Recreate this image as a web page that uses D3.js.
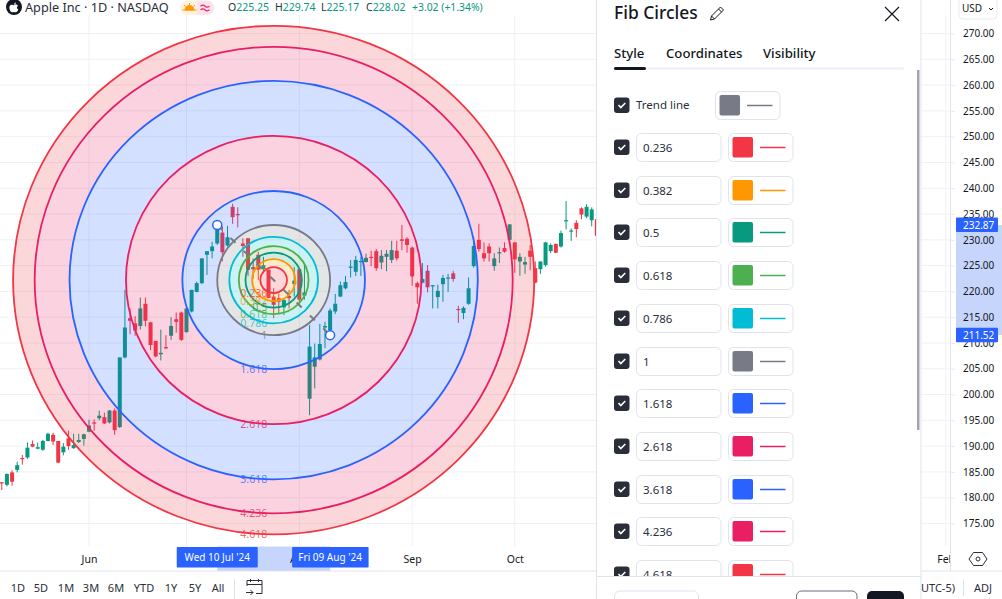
<!DOCTYPE html>
<html>
<head>
<meta charset="utf-8">
<title>Fib Circles</title>
<script src="https://cdn.jsdelivr.net/npm/d3@7"></script>
<style>
  html, body { margin: 0; padding: 0; background: #fff; overflow: hidden; }
  svg { display: block; font-family: "Noto Sans", sans-serif; }
</style>
</head>
<body>
<svg id="chart" width="1002" height="599"></svg>
<script>
////////////////////////////////////////////////////////////////////////////////
//////////////////////////////////////////////////////////////////////////// Data
////////////////////////////////////////////////////////////////////////////////

// daily candles, one entry per trading day
const opens = [183.0,182.5,184.9,185.4,187.7,187.8,190.4,189.5,189.3,191.0,
  192.2,191.0,188.8,191.5,189.6,190.8,191.4,192.8,194.6,195.4,
  195.6,194.6,196.9,193.7,207.2,214.8,213.8,213.3,217.6,214.0,
  210.4,207.8,209.2,211.4,214.6,215.9,212.1,216.1,219.9,221.6,
  227.1,227.8,229.3,231.4,228.9,236.4,235.0,229.3,230.3,224.7,
  227.1,224.3,224.2,219.0,218.7,216.9,219.1,221.4,224.3,219.2,
  199.2,205.4,206.8,213.0,212.4,216.1,219.0,220.6,224.7,223.8,
  225.8,225.7,226.7,227.8,225.6,226.7,226.1,227.9,230.1,230.2,
  228.5,221.6,221.7,224.0,221.1,218.9,221.4,222.5,223.5,216.6,
  215.8,217.6,224.9,230.0,227.4,228.7,224.9,227.5,228.4,230.0,
  229.5,225.8,225.2,227.9,224.5,224.3,225.1,227.8,229.2,228.7,
  233.7,231.7,233.3,236.1,234.5,233.8,234.0];
const highs = [183.0,184.7,185.3,187.0,188.3,190.7,191.1,190.7,191.2,192.6,
  192.6,191.0,190.6,193.0,192.4,192.4,192.4,195.1,195.2,196.9,
  196.5,197.0,197.3,207.2,220.3,216.7,215.2,218.8,218.8,214.1,
  210.4,212.6,211.5,215.0,215.9,216.1,216.7,220.3,221.9,226.4,
  227.8,229.6,232.9,232.6,232.7,237.0,236.3,230.3,230.3,226.4,
  227.7,226.7,224.2,220.6,219.6,218.7,220.3,224.7,224.5,225.1,
  213.5,209.9,213.7,214.1,216.7,219.5,221.9,223.0,226.1,226.9,
  226.7,227.3,227.9,228.2,228.0,228.0,229.8,229.8,232.9,230.5,
  228.7,221.9,225.5,225.1,221.2,221.3,223.2,223.4,224.0,217.2,
  217.1,222.7,230.6,233.1,229.5,229.3,227.4,228.5,229.5,233.0,
  229.6,227.4,226.7,229.0,225.8,225.8,229.6,229.3,229.3,231.8,
  237.5,232.2,233.8,236.3,236.9,236.3,234.2];
const lows = [181.5,182.2,182.3,184.9,186.4,187.5,189.8,189.4,189.1,190.9,
  190.2,186.7,188.2,189.3,189.5,190.6,190.1,192.7,193.0,195.0,
  194.3,194.4,192.2,193.5,207.0,211.7,211.4,212.6,213.2,208.6,
  207.2,206.6,208.8,210.6,212.0,210.4,212.0,215.9,219.8,221.4,
  223.2,226.4,229.0,225.8,228.7,233.1,232.4,226.7,223.0,222.5,
  222.2,223.5,218.7,214.8,215.8,215.4,216.7,219.0,218.0,218.4,
  196.0,201.2,206.6,209.0,212.2,215.6,218.9,220.4,222.7,223.0,
  223.0,225.6,224.9,224.0,224.3,223.9,225.5,226.0,228.0,227.5,
  221.1,217.6,221.6,219.8,216.7,216.7,218.0,219.9,221.9,213.9,
  214.6,217.4,224.6,227.7,225.8,225.8,224.0,225.5,227.5,229.0,
  223.6,223.0,223.4,224.1,221.6,223.4,224.8,227.4,227.4,228.5,
  232.0,229.8,230.5,234.0,234.2,232.6,227.9];
const closes = [182.9,184.6,183.1,186.3,187.6,189.7,189.9,189.8,191.0,192.4,
  190.9,186.8,189.9,190.0,190.2,191.2,192.3,194.0,194.5,195.9,
  194.4,196.9,193.1,207.2,213.0,214.3,212.4,216.7,214.3,209.6,
  207.4,208.1,209.1,213.3,214.1,210.6,216.7,220.3,221.6,226.4,
  227.8,228.7,232.9,227.6,230.5,234.4,234.9,228.8,224.2,224.3,
  224.2,225.1,218.7,217.4,218.0,218.3,218.7,222.1,218.4,219.8,
  209.3,207.2,209.8,213.3,216.3,217.6,221.2,221.8,224.8,226.1,
  225.9,226.5,226.6,224.5,226.9,227.3,228.0,226.4,229.8,229.0,
  222.9,220.8,222.4,220.8,221.2,220.1,222.6,222.7,222.4,216.5,
  216.8,220.6,228.8,228.2,226.4,227.4,226.4,227.6,227.7,233.0,
  226.2,226.7,225.7,226.7,221.7,225.8,229.5,229.0,227.5,231.3,
  233.8,231.8,232.1,234.9,236.4,235.9,230.8];

// fib circle tool
const fibLevels = [0.236, 0.382, 0.5, 0.618, 0.786, 1, 1.618, 2.618, 3.618, 4.236, 4.618];
const fibColors = ["#F23645", "#FF9800", "#089981", "#4CAF50", "#00BCD4", "#787B86",
                   "#2962FF", "#E91E63", "#2962FF", "#E91E63", "#F23645"];
const anchorBars = [43, 65];
const anchorPrices = [232.87, 211.52];
const anchorDates = ["Wed 10 Jul '24", "Fri 09 Aug '24"];

// axes
const priceTicks = [175,180,185,190,195,200,205,210,215,220,225,230,235,240,245,250,255,260,265,270];
const monthBars = [18, 37, 59, 81, 101, 185];
const monthLabels = ["Jun", "Jul", "Aug", "Sep", "Oct", "Feb"];

// header, toolbar
const legendNames = ["O", "H", "L", "C"];
const legendValues = ["225.25", "229.74", "225.17", "228.02"];
const legendChange = "+3.02 (+1.34%)";
const rangeButtons = ["1D", "5D", "1M", "3M", "6M", "YTD", "1Y", "5Y", "All"];
const panelTabs = ["Style", "Coordinates", "Visibility"];

////////////////////////////////////////////////////////////////////////////////
/////////////////////////////////////////////////////////////////// Scales, layout
////////////////////////////////////////////////////////////////////////////////

const paneRight = 951;
const paneBottom = 546.5;
const axisBottomY = 571;
const upColor = "#089981";
const downColor = "#F23645";
const textColor = "#131722";
const lineColor = "#e0e3eb";
const selectColor = "#2962FF";
const selectBand = "#c6d5fb";

const bars = d3.range(1, opens.length + 1);
const xScale = d3.scaleLinear().domain([18, 65]).range([89, 330.1]);
const yScale = d3.scaleLinear().domain([270, 175]).range([33.5, 523.5]);

const svg = d3.select("#chart");
const defs = svg.append("defs");
defs.append("clipPath").attr("id", "pane-clip").append("rect")
    .attr("x", 0).attr("y", 0).attr("width", paneRight).attr("height", paneBottom);
defs.append("clipPath").attr("id", "time-clip").append("rect")
    .attr("x", 0).attr("y", 0).attr("width", paneRight - 1).attr("height", 30);
defs.append("clipPath").attr("id", "panel-rows-clip").append("rect")
    .attr("x", 597).attr("y", 70).attr("width", 324).attr("height", 506);

////////////////////////////////////////////////////////////////////////////////
//////////////////////////////////////////////////////////////////////////// Grid
////////////////////////////////////////////////////////////////////////////////

const pane = svg.append("g").attr("clip-path", "url(#pane-clip)");

pane.append("g").selectAll("line")
    .data(priceTicks)
    .join("line")
      .attr("x1", 0)
      .attr("x2", paneRight)
      .attr("y1", d => yScale(d))
      .attr("y2", d => yScale(d))
      .attr("stroke", "#f0f1f5");

pane.append("g").selectAll("line")
    .data(monthBars)
    .join("line")
      .attr("x1", d => xScale(d))
      .attr("x2", d => xScale(d))
      .attr("y1", 15)
      .attr("y2", paneBottom)
      .attr("stroke", "#f0f1f5");

////////////////////////////////////////////////////////////////////////////////
///////////////////////////////////////////////////////////////////////// Candles
////////////////////////////////////////////////////////////////////////////////

const candleColor = i => closes[i] > opens[i] ? upColor : downColor;
const candles = pane.append("g");

candles.selectAll(".wick")
    .data(bars)
    .join("line")
      .attr("class", "wick")
      .attr("x1", d => xScale(d))
      .attr("x2", d => xScale(d))
      .attr("y1", d => yScale(highs[d - 1]))
      .attr("y2", d => yScale(lows[d - 1]))
      .attr("stroke", d => candleColor(d - 1))
      .attr("stroke-width", 1);

candles.selectAll(".body")
    .data(bars)
    .join("rect")
      .attr("class", "body")
      .attr("x", d => xScale(d) - 2)
      .attr("width", 4)
      .attr("y", d => yScale(Math.max(opens[d - 1], closes[d - 1])))
      .attr("height", d => Math.max(1.2, Math.abs(yScale(opens[d - 1]) - yScale(closes[d - 1]))))
      .attr("fill", d => candleColor(d - 1));

////////////////////////////////////////////////////////////////////////////////
////////////////////////////////////////////////////////////////////// Fib circles
////////////////////////////////////////////////////////////////////////////////

const anchorX = anchorBars.map(xScale);
const anchorY = anchorPrices.map(yScale);
const centerX = (anchorX[0] + anchorX[1]) / 2;
const centerY = (anchorY[0] + anchorY[1]) / 2;
const radiusX = d3.scaleLinear().domain([0, 1]).range([0, (anchorX[1] - anchorX[0]) / 2]);
const radiusY = d3.scaleLinear().domain([0, 1]).range([0, (anchorY[1] - anchorY[0]) / 2]);
const ringArc = d3.arc().startAngle(0).endAngle(2 * Math.PI);

const rings = pane.append("g");

rings.selectAll(".band")
    .data(fibLevels)
    .join("path")
      .attr("class", "band")
      .attr("transform", `translate(${centerX},${centerY}) scale(1,${radiusY(1) / radiusX(1)})`)
      .attr("d", (d, i) => ringArc({
        innerRadius: i === 0 ? 0 : radiusX(fibLevels[i - 1]),
        outerRadius: radiusX(d)
      }))
      .attr("fill", (d, i) => fibColors[i])
      .attr("fill-opacity", 0.2);

rings.selectAll(".ring")
    .data(fibLevels)
    .join("ellipse")
      .attr("class", "ring")
      .attr("cx", centerX)
      .attr("cy", centerY)
      .attr("rx", d => radiusX(d))
      .attr("ry", d => radiusY(d))
      .attr("fill", "none")
      .attr("stroke", (d, i) => fibColors[i])
      .attr("stroke-width", 1.8);

rings.selectAll(".ring-label")
    .data(fibLevels)
    .join("text")
      .attr("class", "ring-label")
      .attr("x", centerX - 6.5)
      .attr("y", d => centerY + radiusY(d) + 3.5)
      .attr("text-anchor", "end")
      .attr("font-size", 10.5)
      .attr("fill", (d, i) => fibColors[i])
      .attr("fill-opacity", 0.75)
      .text(d => d);

rings.append("line")
    .attr("x1", anchorX[0])
    .attr("y1", anchorY[0])
    .attr("x2", anchorX[1])
    .attr("y2", anchorY[1])
    .attr("stroke", "#787B86")
    .attr("stroke-width", 2)
    .attr("stroke-dasharray", "7 11.5");

rings.selectAll(".anchor")
    .data(anchorBars)
    .join("circle")
      .attr("class", "anchor")
      .attr("cx", d => xScale(d))
      .attr("cy", (d, i) => anchorY[i])
      .attr("r", 4.5)
      .attr("fill", "#fff")
      .attr("stroke", selectColor)
      .attr("stroke-width", 1.5);

////////////////////////////////////////////////////////////////////////////////
//////////////////////////////////////////////////////////////////////////// Axes
////////////////////////////////////////////////////////////////////////////////

// Time axis
svg.append("rect")
    .attr("x", anchorX[0])
    .attr("y", paneBottom)
    .attr("width", anchorX[1] - anchorX[0])
    .attr("height", axisBottomY - paneBottom)
    .attr("fill", selectBand);

const timeAxis = svg.append("g")
    .attr("transform", `translate(0,${paneBottom})`)
    .attr("clip-path", "url(#time-clip)")
    .call(d3.axisBottom(xScale)
      .tickValues(monthBars)
      .tickSize(0)
      .tickPadding(9)
      .tickFormat((d, i) => monthLabels[i]));
timeAxis.attr("font-family", null);
timeAxis.select(".domain").remove();
timeAxis.selectAll("text").attr("font-size", 10.5).attr("fill", textColor);

const dateBoxes = svg.append("g").selectAll("g")
    .data(anchorBars)
    .join("g")
      .attr("transform", d => `translate(${xScale(d)},547)`);
dateBoxes.append("rect")
    .attr("x", (d, i) => i === 0 ? -40.5 : -38)
    .attr("width", (d, i) => i === 0 ? 81 : 76.5)
    .attr("height", 20.5)
    .attr("rx", 1)
    .attr("fill", selectColor);
dateBoxes.append("text")
    .attr("x", 0)
    .attr("y", 13.8)
    .attr("text-anchor", "middle")
    .attr("font-size", 10)
    .attr("fill", "#fff")
    .text((d, i) => anchorDates[i]);

// Price axis
svg.append("rect")
    .attr("x", 956)
    .attr("y", anchorY[0])
    .attr("width", 46)
    .attr("height", anchorY[1] - anchorY[0])
    .attr("fill", selectBand);

const priceAxis = svg.append("g")
    .attr("transform", `translate(${paneRight},0)`)
    .call(d3.axisRight(yScale)
      .tickValues(priceTicks)
      .tickSize(4)
      .tickPadding(8)
      .tickFormat(d3.format(".2f")));
priceAxis.attr("font-family", null);
priceAxis.select(".domain").remove();
priceAxis.selectAll("line").attr("stroke", "#e9ebf0");
priceAxis.selectAll("text").attr("font-size", 10).attr("fill", textColor);

const priceBoxes = svg.append("g").selectAll("g")
    .data(anchorPrices)
    .join("g")
      .attr("transform", d => `translate(956,${yScale(d)})`);
priceBoxes.append("rect")
    .attr("y", -7.5)
    .attr("width", 42)
    .attr("height", 14.5)
    .attr("rx", 1)
    .attr("fill", selectColor);
priceBoxes.append("text")
    .attr("x", 7)
    .attr("y", 3.5)
    .attr("font-size", 10)
    .attr("fill", "#fff")
    .text(d => d3.format(".2f")(d));

svg.append("line")
    .attr("x1", paneRight - 0.5).attr("x2", paneRight - 0.5)
    .attr("y1", 0).attr("y2", axisBottomY)
    .attr("stroke", lineColor);
svg.append("line")
    .attr("x1", 0).attr("x2", 1002)
    .attr("y1", axisBottomY).attr("y2", axisBottomY)
    .attr("stroke", lineColor);

// Gear
svg.append("path")
    .attr("d", d3.line()(d3.range(7).map(k => [
      978 + 9 * Math.cos(k * Math.PI / 3),
      559 + 7.5 * Math.sin(k * Math.PI / 3)
    ])))
    .attr("fill", "none")
    .attr("stroke", "#2a2e39");
svg.append("circle")
    .attr("cx", 978).attr("cy", 559).attr("r", 2)
    .attr("fill", "none").attr("stroke", "#2a2e39");

// USD selector
svg.append("rect")
    .attr("x", 959).attr("y", -6).attr("width", 38).attr("height", 25).attr("rx", 4)
    .attr("fill", "#fff").attr("stroke", "#e9ebf0");
svg.append("text")
    .attr("x", 962).attr("y", 12).attr("font-size", 10).attr("fill", textColor)
    .text("USD");
svg.append("path")
    .attr("d", "M989 8l2 2l2 -2")
    .attr("fill", "none").attr("stroke", textColor);

////////////////////////////////////////////////////////////////////////////////
////////////////////////////////////////////////////////////////////////// Header
////////////////////////////////////////////////////////////////////////////////

svg.append("circle").attr("cx", 14).attr("cy", 7).attr("r", 8).attr("fill", "#131722");
svg.append("path")
    .attr("d", "M14 5.2c1-.9 3-.9 4 .6c-1.6 1-1.3 3 .3 3.8c-.6 1.5-1.5 2.7-2.4 2.7c-.8 0-1.1-.4-1.9-.4s-1.1.4-1.9.4c-1.6 0-3.4-4-2.4-6.3c.8-1.6 3-1.7 4.3-.8zM14 4.6c-.1-1 .7-2 1.9-2.2c.1 1.2-.8 2.2-1.9 2.2z")
    .attr("fill", "#fff");
svg.append("text")
    .attr("x", 25).attr("y", 12).attr("font-size", 12.7).attr("fill", "#2a2e39")
    .text("Apple Inc · 1D · NASDAQ");

svg.append("path")
    .attr("d", "M197 0.5h-10a7 7 0 0 0 0 14.5h10z")
    .attr("fill", "#fff3e0");
svg.append("path")
    .attr("d", "M197 0.5h10a7 7 0 0 1 0 14.5h-10z")
    .attr("fill", "#fce4ec");
svg.append("path")
    .attr("d", "M185 10a4.5 4.5 0 0 1 9 0zM189.5 3v2M184 5l1.5 1.5M195 5l-1.5 1.5M182.5 10h14")
    .attr("fill", "#ff9800").attr("stroke", "#ff9800").attr("stroke-width", 1);
svg.append("path")
    .attr("d", "M200.5 6.2q2.5 -2 4.5 0t4.5 0M200.5 9.8q2.5 -2 4.5 0t4.5 0")
    .attr("fill", "none").attr("stroke", "#e91e63").attr("stroke-width", 1.2);

const legendX = [228, 275, 321, 366];
legendNames.forEach(function(name, i) {
  const item = svg.append("text")
      .attr("x", legendX[i]).attr("y", 11).attr("font-size", 10.5);
  item.append("tspan").attr("fill", "#2a2e39").text(name);
  item.append("tspan").attr("fill", upColor).text(legendValues[i]);
});
svg.append("text")
    .attr("x", 412).attr("y", 11).attr("font-size", 10.4).attr("fill", upColor)
    .text(legendChange);

////////////////////////////////////////////////////////////////////////////////
///////////////////////////////////////////////////////////////// Bottom toolbar
////////////////////////////////////////////////////////////////////////////////

const rangeX = [18, 41, 66, 91, 116, 144, 171, 195, 218];
svg.append("g").selectAll("text")
    .data(rangeButtons)
    .join("text")
      .attr("x", (d, i) => rangeX[i])
      .attr("y", 592)
      .attr("text-anchor", "middle")
      .attr("font-size", 11)
      .attr("fill", "#2a2e39")
      .text(d => d);
svg.append("line")
    .attr("x1", 234.5).attr("x2", 234.5).attr("y1", 579).attr("y2", 599)
    .attr("stroke", lineColor);
svg.append("path")
    .attr("d", "M247 586v-5.5h15v13h-6M247 584.5h15M250.5 579v3M258.5 579v3M246 592.5h7M250.5 590l2.5 2.5l-2.5 2.5")
    .attr("fill", "none").attr("stroke", "#2a2e39");

svg.append("text")
    .attr("x", 955).attr("y", 592).attr("text-anchor", "end")
    .attr("font-size", 11).attr("fill", "#2a2e39")
    .text("09:37:12 (UTC-5)");
svg.append("line")
    .attr("x1", 963.5).attr("x2", 963.5).attr("y1", 579).attr("y2", 596)
    .attr("stroke", lineColor);
svg.append("text")
    .attr("x", 983).attr("y", 592).attr("text-anchor", "middle")
    .attr("font-size", 11).attr("fill", "#2a2e39")
    .text("ADJ");

////////////////////////////////////////////////////////////////////////////////
/////////////////////////////////////////////////////////////////// Settings panel
////////////////////////////////////////////////////////////////////////////////

const panel = svg.append("g");

panel.append("rect")
    .attr("x", 596.5).attr("y", -2).attr("width", 324.5).attr("height", 603)
    .attr("fill", "#fff").attr("stroke", lineColor);

panel.append("text")
    .attr("x", 614).attr("y", 19).attr("font-size", 17.4).attr("font-weight", 500)
    .attr("fill", textColor).text("Fib Circles");
panel.append("path")
    .attr("d", "M710.5 20l1 -4l9 -9l3 3l-9 9zM718.5 9l3 3M711.5 16l3 3")
    .attr("fill", "none").attr("stroke", textColor);
panel.append("path")
    .attr("d", "M885 7l14 14M899 7l-14 14")
    .attr("fill", "none").attr("stroke", textColor).attr("stroke-width", 1.2);

const tabX = [614, 666, 763];
panel.append("g").selectAll("text")
    .data(panelTabs)
    .join("text")
      .attr("x", (d, i) => tabX[i])
      .attr("y", 58)
      .attr("font-size", 13.2)
      .attr("font-weight", 500)
      .attr("fill", textColor)
      .text(d => d);
panel.append("rect")
    .attr("x", 614).attr("y", 67).attr("width", 290).attr("height", 3)
    .attr("fill", "#f0f3fa");
panel.append("rect")
    .attr("x", 614).attr("y", 67).attr("width", 32).attr("height", 3).attr("rx", 1.5)
    .attr("fill", textColor);

panel.append("rect")
    .attr("x", 917).attr("y", 70).attr("width", 2.5).attr("height", 360)
    .attr("fill", "#a3a6af");

const rows = panel.append("g").attr("clip-path", "url(#panel-rows-clip)");

function drawCheckbox(g, y) {
  g.append("rect")
      .attr("x", 614).attr("y", y - 7.5).attr("width", 15.5).attr("height", 15.5).attr("rx", 3)
      .attr("fill", "#2a2e39");
  g.append("path")
      .attr("d", `M618.5 ${y}l2.3 2.5l4.5 -4.5`)
      .attr("fill", "none").attr("stroke", "#fff").attr("stroke-width", 1.6);
}

function drawSwatch(g, x, y, color) {
  g.append("rect")
      .attr("x", x).attr("y", y - 13.5).attr("width", 64.5).attr("height", 28).attr("rx", 5)
      .attr("fill", "#fff").attr("stroke", lineColor);
  g.append("rect")
      .attr("x", x + 4).attr("y", y - 10).attr("width", 20.5).attr("height", 20.5).attr("rx", 2)
      .attr("fill", color);
  g.append("line")
      .attr("x1", x + 31.5).attr("x2", x + 57)
      .attr("y1", y + 0.5).attr("y2", y + 0.5)
      .attr("stroke", color).attr("stroke-width", 1.5);
}

const trendRowY = 105;
drawCheckbox(rows, trendRowY);
rows.append("text")
    .attr("x", 636).attr("y", trendRowY + 4).attr("font-size", 11.5)
    .attr("fill", "#2a2e39").text("Trend line");
drawSwatch(rows, 715.5, trendRowY, "#787B86");

const rowY = d3.scaleLinear().domain([0, 10]).range([147, 574]);
fibLevels.forEach(function(level, i) {
  const y = Math.round(rowY(i));
  drawCheckbox(rows, y);
  rows.append("rect")
      .attr("x", 636.5).attr("y", y - 13.5).attr("width", 84.5).attr("height", 28).attr("rx", 5)
      .attr("fill", "#fff").attr("stroke", lineColor);
  rows.append("text")
      .attr("x", 643).attr("y", y + 4.5).attr("font-size", 11.5)
      .attr("fill", "#2a2e39").text(level);
  drawSwatch(rows, 728.5, y, fibColors[i]);
});

// Footer
panel.append("line")
    .attr("x1", 597).attr("x2", 921).attr("y1", 576.5).attr("y2", 576.5)
    .attr("stroke", lineColor);
panel.append("rect")
    .attr("x", 614.5).attr("y", 591).attr("width", 84).attr("height", 20).attr("rx", 5)
    .attr("fill", "#fff").attr("stroke", lineColor);
panel.append("rect")
    .attr("x", 796.5).attr("y", 591).attr("width", 60.5).attr("height", 20).attr("rx", 5)
    .attr("fill", "#fff").attr("stroke", "#6a6d78");
panel.append("rect")
    .attr("x", 867).attr("y", 591).attr("width", 37).attr("height", 20).attr("rx", 5)
    .attr("fill", textColor);
</script>
</body>
</html>
